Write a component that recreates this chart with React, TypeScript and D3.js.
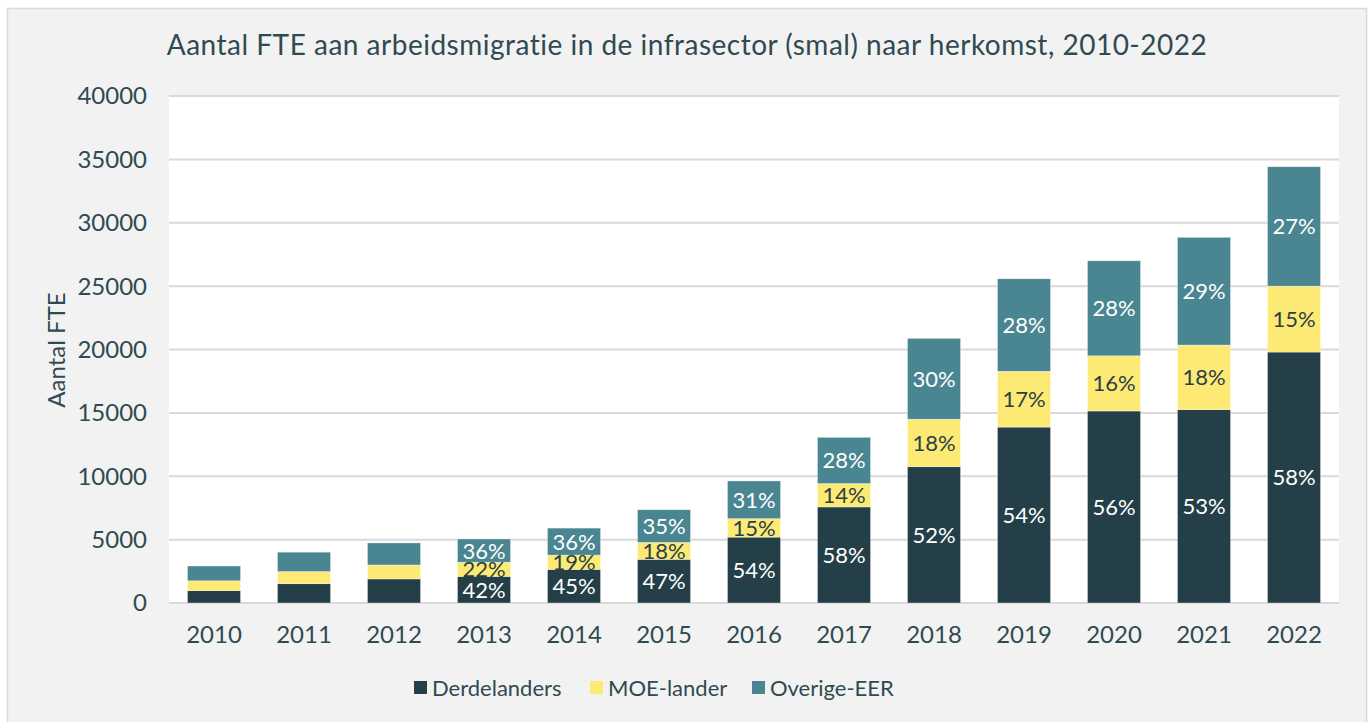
import React from "react";
import * as d3 from "d3";

const years = ["2010","2011","2012","2013","2014","2015","2016","2017","2018","2019","2020","2021","2022"];
const derdelanders = [970, 1520, 1900, 2100, 2650, 3450, 5200, 7580, 10750, 13880, 15150, 15250, 19800];
const moeLander = [780, 960, 1100, 1120, 1130, 1330, 1450, 1840, 3750, 4400, 4350, 5100, 5200];
const overigeEER = [1170, 1530, 1740, 1830, 2130, 2580, 2980, 3650, 6380, 7300, 7500, 8500, 9420];
const pctDerde = ["", "", "", "42%", "45%", "47%", "54%", "58%", "52%", "54%", "56%", "53%", "58%"];
const pctMoe = ["", "", "", "22%", "19%", "18%", "15%", "14%", "18%", "17%", "16%", "18%", "15%"];
const pctOverige = ["", "", "", "36%", "36%", "35%", "31%", "28%", "30%", "28%", "28%", "29%", "27%"];
const yTicks = [0, 5000, 10000, 15000, 20000, 25000, 30000, 35000, 40000];
const seriesNames = ["Derdelanders", "MOE-lander", "Overige-EER"];
const colors = ["#243f47", "#fdea74", "#4a8692"];
const labelColors = ["#ffffff", "#2b3f45", "#ffffff"];

const FONT = "Lato, 'Open Sans', sans-serif";
const TEXT = "#2f4a50";

export default function App() {
  const W = 1370, H = 722;
  const left = 169, right = 1339, top = 96, bottom = 603;
  const x = d3.scaleBand<string>().domain(years).range([left, right]).paddingInner(0.41).paddingOuter(0.205);
  const y = d3.scaleLinear().domain([0, 40000]).range([bottom, top]);
  const rows = years.map((yr, i) => ({ year: yr, s0: derdelanders[i], s1: moeLander[i], s2: overigeEER[i] }));
  const stack = d3.stack<any>().keys(["s0", "s1", "s2"])(rows);
  const pcts = [pctDerde, pctMoe, pctOverige];
  const legendX = [414, 590, 752];

  return (
    <svg width={W} height={H} style={{ position: "absolute", left: 0, top: 0, fontFamily: FONT }}>
      <rect x={0} y={0} width={W} height={H} fill="#ffffff" />
      <rect x={7.5} y={8.5} width={1359} height={720} fill="#f2f2f2" stroke="#d9d9d9" strokeWidth={1.5} />
      <text x={687} y={55} textAnchor="middle" fontSize={28} letterSpacing={0.5} fill={TEXT}>
        Aantal FTE aan arbeidsmigratie in de infrasector (smal) naar herkomst, 2010-2022
      </text>
      <rect x={left} y={top} width={right - left} height={bottom - top} fill="#ffffff" />
      {yTicks.map((t) => (
        <g key={t}>
          <line x1={left} x2={right} y1={y(t)} y2={y(t)} stroke="#d9d9d9" strokeWidth={2} />
          <text x={147} y={y(t)} dy="0.35em" textAnchor="end" fontSize={24} fill={TEXT}>{t}</text>
        </g>
      ))}
      <text transform={`translate(65,350) rotate(-90)`} textAnchor="middle" fontSize={24} fill={TEXT}>Aantal FTE</text>
      {stack.map((layer, si) => (
        <g key={si}>
          {layer.map((d, i) => (
            <rect key={i} x={x(years[i])} y={y(d[1])} width={x.bandwidth()} height={y(d[0]) - y(d[1])}
              fill={colors[si]} stroke="#ffffff" strokeWidth={0.6} strokeOpacity={0.6} />
          ))}
        </g>
      ))}
      {stack.map((layer, si) => (
        <g key={"l" + si}>
          {layer.map((d, i) => pcts[si][i] ? (
            <text key={i} x={(x(years[i]) as number) + x.bandwidth() / 2} y={(y(d[0]) + y(d[1])) / 2} dy="0.36em"
              textAnchor="middle" fontSize={22} fill={labelColors[si]}>{pcts[si][i]}</text>
          ) : null)}
        </g>
      ))}
      {years.map((yr) => (
        <text key={yr} x={(x(yr) as number) + x.bandwidth() / 2} y={635} dy="0.35em" textAnchor="middle" fontSize={24} fill={TEXT}>{yr}</text>
      ))}
      {seriesNames.map((n, i) => (
        <g key={n}>
          <rect x={legendX[i]} y={681} width={13} height={13} fill={colors[i]} />
          <text x={legendX[i] + 18} y={688} dy="0.36em" fontSize={22} fill={TEXT}>{n}</text>
        </g>
      ))}
    </svg>
  );
}
